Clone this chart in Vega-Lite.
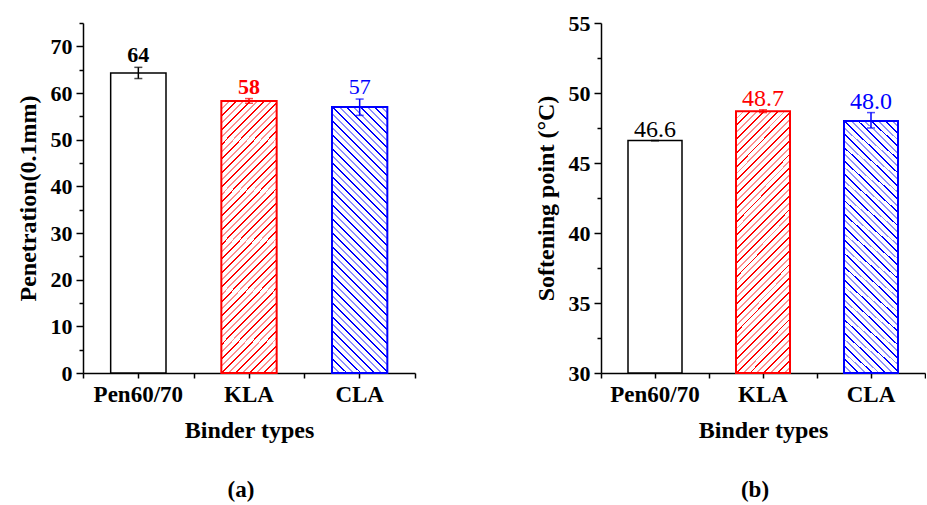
{
  "$schema": "https://vega.github.io/schema/vega-lite/v6.json",
  "padding": {"left": 16, "top": 12, "right": 0, "bottom": 0},
  "background": "white",
  "bounds": "flush",
  "spacing": 186,
  "datasets": {
    "pen": [
      {"binder": "Pen60/70", "value": 64.3, "lo": 63.1, "hi": 65.5, "label": "64"},
      {"binder": "KLA", "value": 58.3, "lo": 57.8, "hi": 58.8, "label": "58"},
      {"binder": "CLA", "value": 57.0, "lo": 55.2, "hi": 58.7, "label": "57"}
    ],
    "soft": [
      {"binder": "Pen60/70", "value": 46.6, "lo": 46.6, "hi": 46.6, "label": "46.6"},
      {"binder": "KLA", "value": 48.7, "lo": 48.6, "hi": 48.8, "label": "48.7"},
      {"binder": "CLA", "value": 48.0, "lo": 47.5, "hi": 48.6, "label": "48.0"}
    ]
  },
  "hconcat": [
    {
      "width": 332,
      "height": 350,
      "data": {"name": "pen"},
      "title": {"text": "(a)", "orient": "bottom", "frame": "group", "fontSize": 23, "fontWeight": "bold", "font": "Liberation Serif", "offset": 37, "dx": -8, "color": "black"},
      "resolve": {"axis": {"x": "independent", "y": "independent"}},
      "layer": [
        {
          "transform": [{"filter": "datum.binder === 'Pen60/70'"}],
          "mark": {"type": "bar", "width": {"band": 0.5}, "fill": "white", "stroke": "#000000", "strokeWidth": 1.5},
          "encoding": {
            "x": {"field": "binder", "type": "nominal", "scale": {"domain": ["Pen60/70", "KLA", "CLA"], "paddingInner": 0, "paddingOuter": 0},
              "axis": {"title": "Binder types", "labelFontSize": 23, "titleFontSize": 24, "labelAngle": 0, "tickSize": 5, "labelPadding": 5, "titlePadding": 12}},
            "y": {"field": "value", "type": "quantitative", "scale": {"domain": [0, 75], "nice": false},
              "axis": {"title": "Penetration(0.1mm)", "values": [0, 10, 20, 30, 40, 50, 60, 70], "labelFontSize": 22, "titleFontSize": 24, "tickSize": 7, "labelPadding": 4, "titlePadding": 10}}
          }
        },
        {
          "transform": [{"filter": "datum.binder === 'KLA'"}],
          "mark": {"type": "bar", "width": {"band": 0.5}, "stroke": "#ff0000", "strokeWidth": 2,
            "fill": {"gradient": "linear", "x1": 0, "y1": 0, "x2": 0.2403, "y2": 1.1577, "stops": [
        {"offset": 0, "color": "#ff0000"}, {"offset": 0.006, "color": "#ff0000"}, {"offset": 0.006, "color": "#ffffff"}, {"offset": 0.0217, "color": "#ffffff"},
        {"offset": 0.0217, "color": "#ff9090"}, {"offset": 0.0277, "color": "#ff9090"}, {"offset": 0.0277, "color": "#ffffff"}, {"offset": 0.0435, "color": "#ffffff"},
        {"offset": 0.0435, "color": "#ff0000"}, {"offset": 0.0495, "color": "#ff0000"}, {"offset": 0.0495, "color": "#ffffff"}, {"offset": 0.0652, "color": "#ffffff"},
        {"offset": 0.0652, "color": "#ff9090"}, {"offset": 0.0712, "color": "#ff9090"}, {"offset": 0.0712, "color": "#ffffff"}, {"offset": 0.0870, "color": "#ffffff"},
        {"offset": 0.0870, "color": "#ff0000"}, {"offset": 0.0930, "color": "#ff0000"}, {"offset": 0.0930, "color": "#ffffff"}, {"offset": 0.1087, "color": "#ffffff"},
        {"offset": 0.1087, "color": "#ff9090"}, {"offset": 0.1147, "color": "#ff9090"}, {"offset": 0.1147, "color": "#ffffff"}, {"offset": 0.1304, "color": "#ffffff"},
        {"offset": 0.1304, "color": "#ff0000"}, {"offset": 0.1364, "color": "#ff0000"}, {"offset": 0.1364, "color": "#ffffff"}, {"offset": 0.1522, "color": "#ffffff"},
        {"offset": 0.1522, "color": "#ff9090"}, {"offset": 0.1582, "color": "#ff9090"}, {"offset": 0.1582, "color": "#ffffff"}, {"offset": 0.1739, "color": "#ffffff"},
        {"offset": 0.1739, "color": "#ff0000"}, {"offset": 0.1799, "color": "#ff0000"}, {"offset": 0.1799, "color": "#ffffff"}, {"offset": 0.1957, "color": "#ffffff"},
        {"offset": 0.1957, "color": "#ff9090"}, {"offset": 0.2017, "color": "#ff9090"}, {"offset": 0.2017, "color": "#ffffff"}, {"offset": 0.2174, "color": "#ffffff"},
        {"offset": 0.2174, "color": "#ff0000"}, {"offset": 0.2234, "color": "#ff0000"}, {"offset": 0.2234, "color": "#ffffff"}, {"offset": 0.2391, "color": "#ffffff"},
        {"offset": 0.2391, "color": "#ff9090"}, {"offset": 0.2451, "color": "#ff9090"}, {"offset": 0.2451, "color": "#ffffff"}, {"offset": 0.2609, "color": "#ffffff"},
        {"offset": 0.2609, "color": "#ff0000"}, {"offset": 0.2669, "color": "#ff0000"}, {"offset": 0.2669, "color": "#ffffff"}, {"offset": 0.2826, "color": "#ffffff"},
        {"offset": 0.2826, "color": "#ff9090"}, {"offset": 0.2886, "color": "#ff9090"}, {"offset": 0.2886, "color": "#ffffff"}, {"offset": 0.3043, "color": "#ffffff"},
        {"offset": 0.3043, "color": "#ff0000"}, {"offset": 0.3103, "color": "#ff0000"}, {"offset": 0.3103, "color": "#ffffff"}, {"offset": 0.3261, "color": "#ffffff"},
        {"offset": 0.3261, "color": "#ff9090"}, {"offset": 0.3321, "color": "#ff9090"}, {"offset": 0.3321, "color": "#ffffff"}, {"offset": 0.3478, "color": "#ffffff"},
        {"offset": 0.3478, "color": "#ff0000"}, {"offset": 0.3538, "color": "#ff0000"}, {"offset": 0.3538, "color": "#ffffff"}, {"offset": 0.3696, "color": "#ffffff"},
        {"offset": 0.3696, "color": "#ff9090"}, {"offset": 0.3756, "color": "#ff9090"}, {"offset": 0.3756, "color": "#ffffff"}, {"offset": 0.3913, "color": "#ffffff"},
        {"offset": 0.3913, "color": "#ff0000"}, {"offset": 0.3973, "color": "#ff0000"}, {"offset": 0.3973, "color": "#ffffff"}, {"offset": 0.4130, "color": "#ffffff"},
        {"offset": 0.4130, "color": "#ff9090"}, {"offset": 0.4190, "color": "#ff9090"}, {"offset": 0.4190, "color": "#ffffff"}, {"offset": 0.4348, "color": "#ffffff"},
        {"offset": 0.4348, "color": "#ff0000"}, {"offset": 0.4408, "color": "#ff0000"}, {"offset": 0.4408, "color": "#ffffff"}, {"offset": 0.4565, "color": "#ffffff"},
        {"offset": 0.4565, "color": "#ff9090"}, {"offset": 0.4625, "color": "#ff9090"}, {"offset": 0.4625, "color": "#ffffff"}, {"offset": 0.4783, "color": "#ffffff"},
        {"offset": 0.4783, "color": "#ff0000"}, {"offset": 0.4843, "color": "#ff0000"}, {"offset": 0.4843, "color": "#ffffff"}, {"offset": 0.5000, "color": "#ffffff"},
        {"offset": 0.5000, "color": "#ff9090"}, {"offset": 0.5060, "color": "#ff9090"}, {"offset": 0.5060, "color": "#ffffff"}, {"offset": 0.5217, "color": "#ffffff"},
        {"offset": 0.5217, "color": "#ff0000"}, {"offset": 0.5277, "color": "#ff0000"}, {"offset": 0.5277, "color": "#ffffff"}, {"offset": 0.5435, "color": "#ffffff"},
        {"offset": 0.5435, "color": "#ff9090"}, {"offset": 0.5495, "color": "#ff9090"}, {"offset": 0.5495, "color": "#ffffff"}, {"offset": 0.5652, "color": "#ffffff"},
        {"offset": 0.5652, "color": "#ff0000"}, {"offset": 0.5712, "color": "#ff0000"}, {"offset": 0.5712, "color": "#ffffff"}, {"offset": 0.5870, "color": "#ffffff"},
        {"offset": 0.5870, "color": "#ff9090"}, {"offset": 0.5930, "color": "#ff9090"}, {"offset": 0.5930, "color": "#ffffff"}, {"offset": 0.6087, "color": "#ffffff"},
        {"offset": 0.6087, "color": "#ff0000"}, {"offset": 0.6147, "color": "#ff0000"}, {"offset": 0.6147, "color": "#ffffff"}, {"offset": 0.6304, "color": "#ffffff"},
        {"offset": 0.6304, "color": "#ff9090"}, {"offset": 0.6364, "color": "#ff9090"}, {"offset": 0.6364, "color": "#ffffff"}, {"offset": 0.6522, "color": "#ffffff"},
        {"offset": 0.6522, "color": "#ff0000"}, {"offset": 0.6582, "color": "#ff0000"}, {"offset": 0.6582, "color": "#ffffff"}, {"offset": 0.6739, "color": "#ffffff"},
        {"offset": 0.6739, "color": "#ff9090"}, {"offset": 0.6799, "color": "#ff9090"}, {"offset": 0.6799, "color": "#ffffff"}, {"offset": 0.6957, "color": "#ffffff"},
        {"offset": 0.6957, "color": "#ff0000"}, {"offset": 0.7017, "color": "#ff0000"}, {"offset": 0.7017, "color": "#ffffff"}, {"offset": 0.7174, "color": "#ffffff"},
        {"offset": 0.7174, "color": "#ff9090"}, {"offset": 0.7234, "color": "#ff9090"}, {"offset": 0.7234, "color": "#ffffff"}, {"offset": 0.7391, "color": "#ffffff"},
        {"offset": 0.7391, "color": "#ff0000"}, {"offset": 0.7451, "color": "#ff0000"}, {"offset": 0.7451, "color": "#ffffff"}, {"offset": 0.7609, "color": "#ffffff"},
        {"offset": 0.7609, "color": "#ff9090"}, {"offset": 0.7669, "color": "#ff9090"}, {"offset": 0.7669, "color": "#ffffff"}, {"offset": 0.7826, "color": "#ffffff"},
        {"offset": 0.7826, "color": "#ff0000"}, {"offset": 0.7886, "color": "#ff0000"}, {"offset": 0.7886, "color": "#ffffff"}, {"offset": 0.8043, "color": "#ffffff"},
        {"offset": 0.8043, "color": "#ff9090"}, {"offset": 0.8103, "color": "#ff9090"}, {"offset": 0.8103, "color": "#ffffff"}, {"offset": 0.8261, "color": "#ffffff"},
        {"offset": 0.8261, "color": "#ff0000"}, {"offset": 0.8321, "color": "#ff0000"}, {"offset": 0.8321, "color": "#ffffff"}, {"offset": 0.8478, "color": "#ffffff"},
        {"offset": 0.8478, "color": "#ff9090"}, {"offset": 0.8538, "color": "#ff9090"}, {"offset": 0.8538, "color": "#ffffff"}, {"offset": 0.8696, "color": "#ffffff"},
        {"offset": 0.8696, "color": "#ff0000"}, {"offset": 0.8756, "color": "#ff0000"}, {"offset": 0.8756, "color": "#ffffff"}, {"offset": 0.8913, "color": "#ffffff"},
        {"offset": 0.8913, "color": "#ff9090"}, {"offset": 0.8973, "color": "#ff9090"}, {"offset": 0.8973, "color": "#ffffff"}, {"offset": 0.9130, "color": "#ffffff"},
        {"offset": 0.9130, "color": "#ff0000"}, {"offset": 0.9190, "color": "#ff0000"}, {"offset": 0.9190, "color": "#ffffff"}, {"offset": 0.9348, "color": "#ffffff"},
        {"offset": 0.9348, "color": "#ff9090"}, {"offset": 0.9408, "color": "#ff9090"}, {"offset": 0.9408, "color": "#ffffff"}, {"offset": 0.9565, "color": "#ffffff"},
        {"offset": 0.9565, "color": "#ff0000"}, {"offset": 0.9625, "color": "#ff0000"}, {"offset": 0.9625, "color": "#ffffff"}, {"offset": 0.9783, "color": "#ffffff"},
        {"offset": 0.9783, "color": "#ff9090"}, {"offset": 0.9843, "color": "#ff9090"}, {"offset": 0.9843, "color": "#ffffff"}, {"offset": 1, "color": "#ffffff"}
            ]}},
          "encoding": {
            "x": {"field": "binder", "type": "nominal", "axis": null},
            "y": {"field": "value", "type": "quantitative", "axis": null}
          }
        },
        {
          "transform": [{"filter": "datum.binder === 'CLA'"}],
          "mark": {"type": "bar", "width": {"band": 0.5}, "stroke": "#0000ff", "strokeWidth": 2,
            "fill": {"gradient": "linear", "x1": 0, "y1": 1, "x2": 0.2403, "y2": -0.1577, "stops": [
        {"offset": 0, "color": "#0000ff"}, {"offset": 0.006, "color": "#0000ff"}, {"offset": 0.006, "color": "#ffffff"}, {"offset": 0.0217, "color": "#ffffff"},
        {"offset": 0.0217, "color": "#9090ff"}, {"offset": 0.0277, "color": "#9090ff"}, {"offset": 0.0277, "color": "#ffffff"}, {"offset": 0.0435, "color": "#ffffff"},
        {"offset": 0.0435, "color": "#0000ff"}, {"offset": 0.0495, "color": "#0000ff"}, {"offset": 0.0495, "color": "#ffffff"}, {"offset": 0.0652, "color": "#ffffff"},
        {"offset": 0.0652, "color": "#9090ff"}, {"offset": 0.0712, "color": "#9090ff"}, {"offset": 0.0712, "color": "#ffffff"}, {"offset": 0.0870, "color": "#ffffff"},
        {"offset": 0.0870, "color": "#0000ff"}, {"offset": 0.0930, "color": "#0000ff"}, {"offset": 0.0930, "color": "#ffffff"}, {"offset": 0.1087, "color": "#ffffff"},
        {"offset": 0.1087, "color": "#9090ff"}, {"offset": 0.1147, "color": "#9090ff"}, {"offset": 0.1147, "color": "#ffffff"}, {"offset": 0.1304, "color": "#ffffff"},
        {"offset": 0.1304, "color": "#0000ff"}, {"offset": 0.1364, "color": "#0000ff"}, {"offset": 0.1364, "color": "#ffffff"}, {"offset": 0.1522, "color": "#ffffff"},
        {"offset": 0.1522, "color": "#9090ff"}, {"offset": 0.1582, "color": "#9090ff"}, {"offset": 0.1582, "color": "#ffffff"}, {"offset": 0.1739, "color": "#ffffff"},
        {"offset": 0.1739, "color": "#0000ff"}, {"offset": 0.1799, "color": "#0000ff"}, {"offset": 0.1799, "color": "#ffffff"}, {"offset": 0.1957, "color": "#ffffff"},
        {"offset": 0.1957, "color": "#9090ff"}, {"offset": 0.2017, "color": "#9090ff"}, {"offset": 0.2017, "color": "#ffffff"}, {"offset": 0.2174, "color": "#ffffff"},
        {"offset": 0.2174, "color": "#0000ff"}, {"offset": 0.2234, "color": "#0000ff"}, {"offset": 0.2234, "color": "#ffffff"}, {"offset": 0.2391, "color": "#ffffff"},
        {"offset": 0.2391, "color": "#9090ff"}, {"offset": 0.2451, "color": "#9090ff"}, {"offset": 0.2451, "color": "#ffffff"}, {"offset": 0.2609, "color": "#ffffff"},
        {"offset": 0.2609, "color": "#0000ff"}, {"offset": 0.2669, "color": "#0000ff"}, {"offset": 0.2669, "color": "#ffffff"}, {"offset": 0.2826, "color": "#ffffff"},
        {"offset": 0.2826, "color": "#9090ff"}, {"offset": 0.2886, "color": "#9090ff"}, {"offset": 0.2886, "color": "#ffffff"}, {"offset": 0.3043, "color": "#ffffff"},
        {"offset": 0.3043, "color": "#0000ff"}, {"offset": 0.3103, "color": "#0000ff"}, {"offset": 0.3103, "color": "#ffffff"}, {"offset": 0.3261, "color": "#ffffff"},
        {"offset": 0.3261, "color": "#9090ff"}, {"offset": 0.3321, "color": "#9090ff"}, {"offset": 0.3321, "color": "#ffffff"}, {"offset": 0.3478, "color": "#ffffff"},
        {"offset": 0.3478, "color": "#0000ff"}, {"offset": 0.3538, "color": "#0000ff"}, {"offset": 0.3538, "color": "#ffffff"}, {"offset": 0.3696, "color": "#ffffff"},
        {"offset": 0.3696, "color": "#9090ff"}, {"offset": 0.3756, "color": "#9090ff"}, {"offset": 0.3756, "color": "#ffffff"}, {"offset": 0.3913, "color": "#ffffff"},
        {"offset": 0.3913, "color": "#0000ff"}, {"offset": 0.3973, "color": "#0000ff"}, {"offset": 0.3973, "color": "#ffffff"}, {"offset": 0.4130, "color": "#ffffff"},
        {"offset": 0.4130, "color": "#9090ff"}, {"offset": 0.4190, "color": "#9090ff"}, {"offset": 0.4190, "color": "#ffffff"}, {"offset": 0.4348, "color": "#ffffff"},
        {"offset": 0.4348, "color": "#0000ff"}, {"offset": 0.4408, "color": "#0000ff"}, {"offset": 0.4408, "color": "#ffffff"}, {"offset": 0.4565, "color": "#ffffff"},
        {"offset": 0.4565, "color": "#9090ff"}, {"offset": 0.4625, "color": "#9090ff"}, {"offset": 0.4625, "color": "#ffffff"}, {"offset": 0.4783, "color": "#ffffff"},
        {"offset": 0.4783, "color": "#0000ff"}, {"offset": 0.4843, "color": "#0000ff"}, {"offset": 0.4843, "color": "#ffffff"}, {"offset": 0.5000, "color": "#ffffff"},
        {"offset": 0.5000, "color": "#9090ff"}, {"offset": 0.5060, "color": "#9090ff"}, {"offset": 0.5060, "color": "#ffffff"}, {"offset": 0.5217, "color": "#ffffff"},
        {"offset": 0.5217, "color": "#0000ff"}, {"offset": 0.5277, "color": "#0000ff"}, {"offset": 0.5277, "color": "#ffffff"}, {"offset": 0.5435, "color": "#ffffff"},
        {"offset": 0.5435, "color": "#9090ff"}, {"offset": 0.5495, "color": "#9090ff"}, {"offset": 0.5495, "color": "#ffffff"}, {"offset": 0.5652, "color": "#ffffff"},
        {"offset": 0.5652, "color": "#0000ff"}, {"offset": 0.5712, "color": "#0000ff"}, {"offset": 0.5712, "color": "#ffffff"}, {"offset": 0.5870, "color": "#ffffff"},
        {"offset": 0.5870, "color": "#9090ff"}, {"offset": 0.5930, "color": "#9090ff"}, {"offset": 0.5930, "color": "#ffffff"}, {"offset": 0.6087, "color": "#ffffff"},
        {"offset": 0.6087, "color": "#0000ff"}, {"offset": 0.6147, "color": "#0000ff"}, {"offset": 0.6147, "color": "#ffffff"}, {"offset": 0.6304, "color": "#ffffff"},
        {"offset": 0.6304, "color": "#9090ff"}, {"offset": 0.6364, "color": "#9090ff"}, {"offset": 0.6364, "color": "#ffffff"}, {"offset": 0.6522, "color": "#ffffff"},
        {"offset": 0.6522, "color": "#0000ff"}, {"offset": 0.6582, "color": "#0000ff"}, {"offset": 0.6582, "color": "#ffffff"}, {"offset": 0.6739, "color": "#ffffff"},
        {"offset": 0.6739, "color": "#9090ff"}, {"offset": 0.6799, "color": "#9090ff"}, {"offset": 0.6799, "color": "#ffffff"}, {"offset": 0.6957, "color": "#ffffff"},
        {"offset": 0.6957, "color": "#0000ff"}, {"offset": 0.7017, "color": "#0000ff"}, {"offset": 0.7017, "color": "#ffffff"}, {"offset": 0.7174, "color": "#ffffff"},
        {"offset": 0.7174, "color": "#9090ff"}, {"offset": 0.7234, "color": "#9090ff"}, {"offset": 0.7234, "color": "#ffffff"}, {"offset": 0.7391, "color": "#ffffff"},
        {"offset": 0.7391, "color": "#0000ff"}, {"offset": 0.7451, "color": "#0000ff"}, {"offset": 0.7451, "color": "#ffffff"}, {"offset": 0.7609, "color": "#ffffff"},
        {"offset": 0.7609, "color": "#9090ff"}, {"offset": 0.7669, "color": "#9090ff"}, {"offset": 0.7669, "color": "#ffffff"}, {"offset": 0.7826, "color": "#ffffff"},
        {"offset": 0.7826, "color": "#0000ff"}, {"offset": 0.7886, "color": "#0000ff"}, {"offset": 0.7886, "color": "#ffffff"}, {"offset": 0.8043, "color": "#ffffff"},
        {"offset": 0.8043, "color": "#9090ff"}, {"offset": 0.8103, "color": "#9090ff"}, {"offset": 0.8103, "color": "#ffffff"}, {"offset": 0.8261, "color": "#ffffff"},
        {"offset": 0.8261, "color": "#0000ff"}, {"offset": 0.8321, "color": "#0000ff"}, {"offset": 0.8321, "color": "#ffffff"}, {"offset": 0.8478, "color": "#ffffff"},
        {"offset": 0.8478, "color": "#9090ff"}, {"offset": 0.8538, "color": "#9090ff"}, {"offset": 0.8538, "color": "#ffffff"}, {"offset": 0.8696, "color": "#ffffff"},
        {"offset": 0.8696, "color": "#0000ff"}, {"offset": 0.8756, "color": "#0000ff"}, {"offset": 0.8756, "color": "#ffffff"}, {"offset": 0.8913, "color": "#ffffff"},
        {"offset": 0.8913, "color": "#9090ff"}, {"offset": 0.8973, "color": "#9090ff"}, {"offset": 0.8973, "color": "#ffffff"}, {"offset": 0.9130, "color": "#ffffff"},
        {"offset": 0.9130, "color": "#0000ff"}, {"offset": 0.9190, "color": "#0000ff"}, {"offset": 0.9190, "color": "#ffffff"}, {"offset": 0.9348, "color": "#ffffff"},
        {"offset": 0.9348, "color": "#9090ff"}, {"offset": 0.9408, "color": "#9090ff"}, {"offset": 0.9408, "color": "#ffffff"}, {"offset": 0.9565, "color": "#ffffff"},
        {"offset": 0.9565, "color": "#0000ff"}, {"offset": 0.9625, "color": "#0000ff"}, {"offset": 0.9625, "color": "#ffffff"}, {"offset": 0.9783, "color": "#ffffff"},
        {"offset": 0.9783, "color": "#9090ff"}, {"offset": 0.9843, "color": "#9090ff"}, {"offset": 0.9843, "color": "#ffffff"}, {"offset": 1, "color": "#ffffff"}
            ]}},
          "encoding": {
            "x": {"field": "binder", "type": "nominal", "axis": null},
            "y": {"field": "value", "type": "quantitative", "axis": null}
          }
        },
        {
          "mark": {"type": "errorbar", "ticks": {"size": 8, "thickness": 1.5}, "rule": {"strokeWidth": 1.5}},
          "encoding": {
            "x": {"field": "binder", "type": "nominal", "axis": {"orient": "bottom", "tickBand": "extent", "labels": false, "domain": false, "title": null, "tickSize": 5}},
            "y": {"field": "lo", "type": "quantitative", "axis": {"orient": "left", "values": [5, 15, 25, 35, 45, 55, 65, 75], "labels": false, "domain": false, "title": null, "tickSize": 4}},
            "y2": {"field": "hi"},
            "color": {"field": "binder", "type": "nominal", "scale": {"domain": ["Pen60/70", "KLA", "CLA"], "range": ["#000000", "#ff0000", "#0000ff"]}, "legend": null}
          }
        },
        {
          "transform": [{"filter": "datum.binder !== 'CLA'"}],
          "mark": {"type": "text", "font": "Liberation Serif", "fontSize": 22, "fontWeight": "bold", "baseline": "alphabetic", "dy": -5},
          "encoding": {
            "x": {"field": "binder", "type": "nominal", "axis": null},
            "y": {"field": "hi", "type": "quantitative", "axis": null},
            "text": {"field": "label"},
            "color": {"field": "binder", "type": "nominal", "legend": null}
          }
        },
        {
          "transform": [{"filter": "datum.binder === 'CLA'"}],
          "mark": {"type": "text", "font": "Liberation Serif", "fontSize": 22, "fontWeight": "normal", "baseline": "alphabetic", "dy": -5},
          "encoding": {
            "x": {"field": "binder", "type": "nominal", "axis": null},
            "y": {"field": "hi", "type": "quantitative", "axis": null},
            "text": {"field": "label"},
            "color": {"field": "binder", "type": "nominal", "legend": null}
          }
        }
      ]
    },
    {
      "width": 324,
      "height": 350,
      "data": {"name": "soft"},
      "title": {"text": "(b)", "orient": "bottom", "frame": "group", "fontSize": 23, "fontWeight": "bold", "font": "Liberation Serif", "offset": 37, "dx": -8, "color": "black"},
      "resolve": {"axis": {"x": "independent", "y": "independent"}},
      "layer": [
        {
          "transform": [{"filter": "datum.binder === 'Pen60/70'"}],
          "mark": {"type": "bar", "width": {"band": 0.5}, "fill": "white", "stroke": "#000000", "strokeWidth": 1.5},
          "encoding": {
            "x": {"field": "binder", "type": "nominal", "scale": {"domain": ["Pen60/70", "KLA", "CLA"], "paddingInner": 0, "paddingOuter": 0},
              "axis": {"title": "Binder types", "labelFontSize": 23, "titleFontSize": 24, "labelAngle": 0, "tickSize": 5, "labelPadding": 5, "titlePadding": 12}},
            "y": {"field": "value", "type": "quantitative", "scale": {"domain": [30, 55], "nice": false, "zero": false},
              "axis": {"title": "Softening point (°C)", "values": [30, 35, 40, 45, 50, 55], "labelFontSize": 22, "titleFontSize": 24, "tickSize": 7, "labelPadding": 4, "titlePadding": 10}},
            "y2": {"datum": 30}
          }
        },
        {
          "transform": [{"filter": "datum.binder === 'KLA'"}],
          "mark": {"type": "bar", "width": {"band": 0.5}, "stroke": "#ff0000", "strokeWidth": 2,
            "fill": {"gradient": "linear", "x1": 0, "y1": 0, "x2": 0.2403, "y2": 1.1577, "stops": [
        {"offset": 0, "color": "#ff0000"}, {"offset": 0.006, "color": "#ff0000"}, {"offset": 0.006, "color": "#ffffff"}, {"offset": 0.0217, "color": "#ffffff"},
        {"offset": 0.0217, "color": "#ff9090"}, {"offset": 0.0277, "color": "#ff9090"}, {"offset": 0.0277, "color": "#ffffff"}, {"offset": 0.0435, "color": "#ffffff"},
        {"offset": 0.0435, "color": "#ff0000"}, {"offset": 0.0495, "color": "#ff0000"}, {"offset": 0.0495, "color": "#ffffff"}, {"offset": 0.0652, "color": "#ffffff"},
        {"offset": 0.0652, "color": "#ff9090"}, {"offset": 0.0712, "color": "#ff9090"}, {"offset": 0.0712, "color": "#ffffff"}, {"offset": 0.0870, "color": "#ffffff"},
        {"offset": 0.0870, "color": "#ff0000"}, {"offset": 0.0930, "color": "#ff0000"}, {"offset": 0.0930, "color": "#ffffff"}, {"offset": 0.1087, "color": "#ffffff"},
        {"offset": 0.1087, "color": "#ff9090"}, {"offset": 0.1147, "color": "#ff9090"}, {"offset": 0.1147, "color": "#ffffff"}, {"offset": 0.1304, "color": "#ffffff"},
        {"offset": 0.1304, "color": "#ff0000"}, {"offset": 0.1364, "color": "#ff0000"}, {"offset": 0.1364, "color": "#ffffff"}, {"offset": 0.1522, "color": "#ffffff"},
        {"offset": 0.1522, "color": "#ff9090"}, {"offset": 0.1582, "color": "#ff9090"}, {"offset": 0.1582, "color": "#ffffff"}, {"offset": 0.1739, "color": "#ffffff"},
        {"offset": 0.1739, "color": "#ff0000"}, {"offset": 0.1799, "color": "#ff0000"}, {"offset": 0.1799, "color": "#ffffff"}, {"offset": 0.1957, "color": "#ffffff"},
        {"offset": 0.1957, "color": "#ff9090"}, {"offset": 0.2017, "color": "#ff9090"}, {"offset": 0.2017, "color": "#ffffff"}, {"offset": 0.2174, "color": "#ffffff"},
        {"offset": 0.2174, "color": "#ff0000"}, {"offset": 0.2234, "color": "#ff0000"}, {"offset": 0.2234, "color": "#ffffff"}, {"offset": 0.2391, "color": "#ffffff"},
        {"offset": 0.2391, "color": "#ff9090"}, {"offset": 0.2451, "color": "#ff9090"}, {"offset": 0.2451, "color": "#ffffff"}, {"offset": 0.2609, "color": "#ffffff"},
        {"offset": 0.2609, "color": "#ff0000"}, {"offset": 0.2669, "color": "#ff0000"}, {"offset": 0.2669, "color": "#ffffff"}, {"offset": 0.2826, "color": "#ffffff"},
        {"offset": 0.2826, "color": "#ff9090"}, {"offset": 0.2886, "color": "#ff9090"}, {"offset": 0.2886, "color": "#ffffff"}, {"offset": 0.3043, "color": "#ffffff"},
        {"offset": 0.3043, "color": "#ff0000"}, {"offset": 0.3103, "color": "#ff0000"}, {"offset": 0.3103, "color": "#ffffff"}, {"offset": 0.3261, "color": "#ffffff"},
        {"offset": 0.3261, "color": "#ff9090"}, {"offset": 0.3321, "color": "#ff9090"}, {"offset": 0.3321, "color": "#ffffff"}, {"offset": 0.3478, "color": "#ffffff"},
        {"offset": 0.3478, "color": "#ff0000"}, {"offset": 0.3538, "color": "#ff0000"}, {"offset": 0.3538, "color": "#ffffff"}, {"offset": 0.3696, "color": "#ffffff"},
        {"offset": 0.3696, "color": "#ff9090"}, {"offset": 0.3756, "color": "#ff9090"}, {"offset": 0.3756, "color": "#ffffff"}, {"offset": 0.3913, "color": "#ffffff"},
        {"offset": 0.3913, "color": "#ff0000"}, {"offset": 0.3973, "color": "#ff0000"}, {"offset": 0.3973, "color": "#ffffff"}, {"offset": 0.4130, "color": "#ffffff"},
        {"offset": 0.4130, "color": "#ff9090"}, {"offset": 0.4190, "color": "#ff9090"}, {"offset": 0.4190, "color": "#ffffff"}, {"offset": 0.4348, "color": "#ffffff"},
        {"offset": 0.4348, "color": "#ff0000"}, {"offset": 0.4408, "color": "#ff0000"}, {"offset": 0.4408, "color": "#ffffff"}, {"offset": 0.4565, "color": "#ffffff"},
        {"offset": 0.4565, "color": "#ff9090"}, {"offset": 0.4625, "color": "#ff9090"}, {"offset": 0.4625, "color": "#ffffff"}, {"offset": 0.4783, "color": "#ffffff"},
        {"offset": 0.4783, "color": "#ff0000"}, {"offset": 0.4843, "color": "#ff0000"}, {"offset": 0.4843, "color": "#ffffff"}, {"offset": 0.5000, "color": "#ffffff"},
        {"offset": 0.5000, "color": "#ff9090"}, {"offset": 0.5060, "color": "#ff9090"}, {"offset": 0.5060, "color": "#ffffff"}, {"offset": 0.5217, "color": "#ffffff"},
        {"offset": 0.5217, "color": "#ff0000"}, {"offset": 0.5277, "color": "#ff0000"}, {"offset": 0.5277, "color": "#ffffff"}, {"offset": 0.5435, "color": "#ffffff"},
        {"offset": 0.5435, "color": "#ff9090"}, {"offset": 0.5495, "color": "#ff9090"}, {"offset": 0.5495, "color": "#ffffff"}, {"offset": 0.5652, "color": "#ffffff"},
        {"offset": 0.5652, "color": "#ff0000"}, {"offset": 0.5712, "color": "#ff0000"}, {"offset": 0.5712, "color": "#ffffff"}, {"offset": 0.5870, "color": "#ffffff"},
        {"offset": 0.5870, "color": "#ff9090"}, {"offset": 0.5930, "color": "#ff9090"}, {"offset": 0.5930, "color": "#ffffff"}, {"offset": 0.6087, "color": "#ffffff"},
        {"offset": 0.6087, "color": "#ff0000"}, {"offset": 0.6147, "color": "#ff0000"}, {"offset": 0.6147, "color": "#ffffff"}, {"offset": 0.6304, "color": "#ffffff"},
        {"offset": 0.6304, "color": "#ff9090"}, {"offset": 0.6364, "color": "#ff9090"}, {"offset": 0.6364, "color": "#ffffff"}, {"offset": 0.6522, "color": "#ffffff"},
        {"offset": 0.6522, "color": "#ff0000"}, {"offset": 0.6582, "color": "#ff0000"}, {"offset": 0.6582, "color": "#ffffff"}, {"offset": 0.6739, "color": "#ffffff"},
        {"offset": 0.6739, "color": "#ff9090"}, {"offset": 0.6799, "color": "#ff9090"}, {"offset": 0.6799, "color": "#ffffff"}, {"offset": 0.6957, "color": "#ffffff"},
        {"offset": 0.6957, "color": "#ff0000"}, {"offset": 0.7017, "color": "#ff0000"}, {"offset": 0.7017, "color": "#ffffff"}, {"offset": 0.7174, "color": "#ffffff"},
        {"offset": 0.7174, "color": "#ff9090"}, {"offset": 0.7234, "color": "#ff9090"}, {"offset": 0.7234, "color": "#ffffff"}, {"offset": 0.7391, "color": "#ffffff"},
        {"offset": 0.7391, "color": "#ff0000"}, {"offset": 0.7451, "color": "#ff0000"}, {"offset": 0.7451, "color": "#ffffff"}, {"offset": 0.7609, "color": "#ffffff"},
        {"offset": 0.7609, "color": "#ff9090"}, {"offset": 0.7669, "color": "#ff9090"}, {"offset": 0.7669, "color": "#ffffff"}, {"offset": 0.7826, "color": "#ffffff"},
        {"offset": 0.7826, "color": "#ff0000"}, {"offset": 0.7886, "color": "#ff0000"}, {"offset": 0.7886, "color": "#ffffff"}, {"offset": 0.8043, "color": "#ffffff"},
        {"offset": 0.8043, "color": "#ff9090"}, {"offset": 0.8103, "color": "#ff9090"}, {"offset": 0.8103, "color": "#ffffff"}, {"offset": 0.8261, "color": "#ffffff"},
        {"offset": 0.8261, "color": "#ff0000"}, {"offset": 0.8321, "color": "#ff0000"}, {"offset": 0.8321, "color": "#ffffff"}, {"offset": 0.8478, "color": "#ffffff"},
        {"offset": 0.8478, "color": "#ff9090"}, {"offset": 0.8538, "color": "#ff9090"}, {"offset": 0.8538, "color": "#ffffff"}, {"offset": 0.8696, "color": "#ffffff"},
        {"offset": 0.8696, "color": "#ff0000"}, {"offset": 0.8756, "color": "#ff0000"}, {"offset": 0.8756, "color": "#ffffff"}, {"offset": 0.8913, "color": "#ffffff"},
        {"offset": 0.8913, "color": "#ff9090"}, {"offset": 0.8973, "color": "#ff9090"}, {"offset": 0.8973, "color": "#ffffff"}, {"offset": 0.9130, "color": "#ffffff"},
        {"offset": 0.9130, "color": "#ff0000"}, {"offset": 0.9190, "color": "#ff0000"}, {"offset": 0.9190, "color": "#ffffff"}, {"offset": 0.9348, "color": "#ffffff"},
        {"offset": 0.9348, "color": "#ff9090"}, {"offset": 0.9408, "color": "#ff9090"}, {"offset": 0.9408, "color": "#ffffff"}, {"offset": 0.9565, "color": "#ffffff"},
        {"offset": 0.9565, "color": "#ff0000"}, {"offset": 0.9625, "color": "#ff0000"}, {"offset": 0.9625, "color": "#ffffff"}, {"offset": 0.9783, "color": "#ffffff"},
        {"offset": 0.9783, "color": "#ff9090"}, {"offset": 0.9843, "color": "#ff9090"}, {"offset": 0.9843, "color": "#ffffff"}, {"offset": 1, "color": "#ffffff"}
            ]}},
          "encoding": {
            "x": {"field": "binder", "type": "nominal", "axis": null},
            "y": {"field": "value", "type": "quantitative", "axis": null},
            "y2": {"datum": 30}
          }
        },
        {
          "transform": [{"filter": "datum.binder === 'CLA'"}],
          "mark": {"type": "bar", "width": {"band": 0.5}, "stroke": "#0000ff", "strokeWidth": 2,
            "fill": {"gradient": "linear", "x1": 0, "y1": 1, "x2": 0.2403, "y2": -0.1577, "stops": [
        {"offset": 0, "color": "#0000ff"}, {"offset": 0.006, "color": "#0000ff"}, {"offset": 0.006, "color": "#ffffff"}, {"offset": 0.0217, "color": "#ffffff"},
        {"offset": 0.0217, "color": "#9090ff"}, {"offset": 0.0277, "color": "#9090ff"}, {"offset": 0.0277, "color": "#ffffff"}, {"offset": 0.0435, "color": "#ffffff"},
        {"offset": 0.0435, "color": "#0000ff"}, {"offset": 0.0495, "color": "#0000ff"}, {"offset": 0.0495, "color": "#ffffff"}, {"offset": 0.0652, "color": "#ffffff"},
        {"offset": 0.0652, "color": "#9090ff"}, {"offset": 0.0712, "color": "#9090ff"}, {"offset": 0.0712, "color": "#ffffff"}, {"offset": 0.0870, "color": "#ffffff"},
        {"offset": 0.0870, "color": "#0000ff"}, {"offset": 0.0930, "color": "#0000ff"}, {"offset": 0.0930, "color": "#ffffff"}, {"offset": 0.1087, "color": "#ffffff"},
        {"offset": 0.1087, "color": "#9090ff"}, {"offset": 0.1147, "color": "#9090ff"}, {"offset": 0.1147, "color": "#ffffff"}, {"offset": 0.1304, "color": "#ffffff"},
        {"offset": 0.1304, "color": "#0000ff"}, {"offset": 0.1364, "color": "#0000ff"}, {"offset": 0.1364, "color": "#ffffff"}, {"offset": 0.1522, "color": "#ffffff"},
        {"offset": 0.1522, "color": "#9090ff"}, {"offset": 0.1582, "color": "#9090ff"}, {"offset": 0.1582, "color": "#ffffff"}, {"offset": 0.1739, "color": "#ffffff"},
        {"offset": 0.1739, "color": "#0000ff"}, {"offset": 0.1799, "color": "#0000ff"}, {"offset": 0.1799, "color": "#ffffff"}, {"offset": 0.1957, "color": "#ffffff"},
        {"offset": 0.1957, "color": "#9090ff"}, {"offset": 0.2017, "color": "#9090ff"}, {"offset": 0.2017, "color": "#ffffff"}, {"offset": 0.2174, "color": "#ffffff"},
        {"offset": 0.2174, "color": "#0000ff"}, {"offset": 0.2234, "color": "#0000ff"}, {"offset": 0.2234, "color": "#ffffff"}, {"offset": 0.2391, "color": "#ffffff"},
        {"offset": 0.2391, "color": "#9090ff"}, {"offset": 0.2451, "color": "#9090ff"}, {"offset": 0.2451, "color": "#ffffff"}, {"offset": 0.2609, "color": "#ffffff"},
        {"offset": 0.2609, "color": "#0000ff"}, {"offset": 0.2669, "color": "#0000ff"}, {"offset": 0.2669, "color": "#ffffff"}, {"offset": 0.2826, "color": "#ffffff"},
        {"offset": 0.2826, "color": "#9090ff"}, {"offset": 0.2886, "color": "#9090ff"}, {"offset": 0.2886, "color": "#ffffff"}, {"offset": 0.3043, "color": "#ffffff"},
        {"offset": 0.3043, "color": "#0000ff"}, {"offset": 0.3103, "color": "#0000ff"}, {"offset": 0.3103, "color": "#ffffff"}, {"offset": 0.3261, "color": "#ffffff"},
        {"offset": 0.3261, "color": "#9090ff"}, {"offset": 0.3321, "color": "#9090ff"}, {"offset": 0.3321, "color": "#ffffff"}, {"offset": 0.3478, "color": "#ffffff"},
        {"offset": 0.3478, "color": "#0000ff"}, {"offset": 0.3538, "color": "#0000ff"}, {"offset": 0.3538, "color": "#ffffff"}, {"offset": 0.3696, "color": "#ffffff"},
        {"offset": 0.3696, "color": "#9090ff"}, {"offset": 0.3756, "color": "#9090ff"}, {"offset": 0.3756, "color": "#ffffff"}, {"offset": 0.3913, "color": "#ffffff"},
        {"offset": 0.3913, "color": "#0000ff"}, {"offset": 0.3973, "color": "#0000ff"}, {"offset": 0.3973, "color": "#ffffff"}, {"offset": 0.4130, "color": "#ffffff"},
        {"offset": 0.4130, "color": "#9090ff"}, {"offset": 0.4190, "color": "#9090ff"}, {"offset": 0.4190, "color": "#ffffff"}, {"offset": 0.4348, "color": "#ffffff"},
        {"offset": 0.4348, "color": "#0000ff"}, {"offset": 0.4408, "color": "#0000ff"}, {"offset": 0.4408, "color": "#ffffff"}, {"offset": 0.4565, "color": "#ffffff"},
        {"offset": 0.4565, "color": "#9090ff"}, {"offset": 0.4625, "color": "#9090ff"}, {"offset": 0.4625, "color": "#ffffff"}, {"offset": 0.4783, "color": "#ffffff"},
        {"offset": 0.4783, "color": "#0000ff"}, {"offset": 0.4843, "color": "#0000ff"}, {"offset": 0.4843, "color": "#ffffff"}, {"offset": 0.5000, "color": "#ffffff"},
        {"offset": 0.5000, "color": "#9090ff"}, {"offset": 0.5060, "color": "#9090ff"}, {"offset": 0.5060, "color": "#ffffff"}, {"offset": 0.5217, "color": "#ffffff"},
        {"offset": 0.5217, "color": "#0000ff"}, {"offset": 0.5277, "color": "#0000ff"}, {"offset": 0.5277, "color": "#ffffff"}, {"offset": 0.5435, "color": "#ffffff"},
        {"offset": 0.5435, "color": "#9090ff"}, {"offset": 0.5495, "color": "#9090ff"}, {"offset": 0.5495, "color": "#ffffff"}, {"offset": 0.5652, "color": "#ffffff"},
        {"offset": 0.5652, "color": "#0000ff"}, {"offset": 0.5712, "color": "#0000ff"}, {"offset": 0.5712, "color": "#ffffff"}, {"offset": 0.5870, "color": "#ffffff"},
        {"offset": 0.5870, "color": "#9090ff"}, {"offset": 0.5930, "color": "#9090ff"}, {"offset": 0.5930, "color": "#ffffff"}, {"offset": 0.6087, "color": "#ffffff"},
        {"offset": 0.6087, "color": "#0000ff"}, {"offset": 0.6147, "color": "#0000ff"}, {"offset": 0.6147, "color": "#ffffff"}, {"offset": 0.6304, "color": "#ffffff"},
        {"offset": 0.6304, "color": "#9090ff"}, {"offset": 0.6364, "color": "#9090ff"}, {"offset": 0.6364, "color": "#ffffff"}, {"offset": 0.6522, "color": "#ffffff"},
        {"offset": 0.6522, "color": "#0000ff"}, {"offset": 0.6582, "color": "#0000ff"}, {"offset": 0.6582, "color": "#ffffff"}, {"offset": 0.6739, "color": "#ffffff"},
        {"offset": 0.6739, "color": "#9090ff"}, {"offset": 0.6799, "color": "#9090ff"}, {"offset": 0.6799, "color": "#ffffff"}, {"offset": 0.6957, "color": "#ffffff"},
        {"offset": 0.6957, "color": "#0000ff"}, {"offset": 0.7017, "color": "#0000ff"}, {"offset": 0.7017, "color": "#ffffff"}, {"offset": 0.7174, "color": "#ffffff"},
        {"offset": 0.7174, "color": "#9090ff"}, {"offset": 0.7234, "color": "#9090ff"}, {"offset": 0.7234, "color": "#ffffff"}, {"offset": 0.7391, "color": "#ffffff"},
        {"offset": 0.7391, "color": "#0000ff"}, {"offset": 0.7451, "color": "#0000ff"}, {"offset": 0.7451, "color": "#ffffff"}, {"offset": 0.7609, "color": "#ffffff"},
        {"offset": 0.7609, "color": "#9090ff"}, {"offset": 0.7669, "color": "#9090ff"}, {"offset": 0.7669, "color": "#ffffff"}, {"offset": 0.7826, "color": "#ffffff"},
        {"offset": 0.7826, "color": "#0000ff"}, {"offset": 0.7886, "color": "#0000ff"}, {"offset": 0.7886, "color": "#ffffff"}, {"offset": 0.8043, "color": "#ffffff"},
        {"offset": 0.8043, "color": "#9090ff"}, {"offset": 0.8103, "color": "#9090ff"}, {"offset": 0.8103, "color": "#ffffff"}, {"offset": 0.8261, "color": "#ffffff"},
        {"offset": 0.8261, "color": "#0000ff"}, {"offset": 0.8321, "color": "#0000ff"}, {"offset": 0.8321, "color": "#ffffff"}, {"offset": 0.8478, "color": "#ffffff"},
        {"offset": 0.8478, "color": "#9090ff"}, {"offset": 0.8538, "color": "#9090ff"}, {"offset": 0.8538, "color": "#ffffff"}, {"offset": 0.8696, "color": "#ffffff"},
        {"offset": 0.8696, "color": "#0000ff"}, {"offset": 0.8756, "color": "#0000ff"}, {"offset": 0.8756, "color": "#ffffff"}, {"offset": 0.8913, "color": "#ffffff"},
        {"offset": 0.8913, "color": "#9090ff"}, {"offset": 0.8973, "color": "#9090ff"}, {"offset": 0.8973, "color": "#ffffff"}, {"offset": 0.9130, "color": "#ffffff"},
        {"offset": 0.9130, "color": "#0000ff"}, {"offset": 0.9190, "color": "#0000ff"}, {"offset": 0.9190, "color": "#ffffff"}, {"offset": 0.9348, "color": "#ffffff"},
        {"offset": 0.9348, "color": "#9090ff"}, {"offset": 0.9408, "color": "#9090ff"}, {"offset": 0.9408, "color": "#ffffff"}, {"offset": 0.9565, "color": "#ffffff"},
        {"offset": 0.9565, "color": "#0000ff"}, {"offset": 0.9625, "color": "#0000ff"}, {"offset": 0.9625, "color": "#ffffff"}, {"offset": 0.9783, "color": "#ffffff"},
        {"offset": 0.9783, "color": "#9090ff"}, {"offset": 0.9843, "color": "#9090ff"}, {"offset": 0.9843, "color": "#ffffff"}, {"offset": 1, "color": "#ffffff"}
            ]}},
          "encoding": {
            "x": {"field": "binder", "type": "nominal", "axis": null},
            "y": {"field": "value", "type": "quantitative", "axis": null},
            "y2": {"datum": 30}
          }
        },
        {
          "mark": {"type": "errorbar", "ticks": {"size": 8, "thickness": 1.5}, "rule": {"strokeWidth": 1.5}},
          "encoding": {
            "x": {"field": "binder", "type": "nominal", "axis": {"orient": "bottom", "tickBand": "extent", "labels": false, "domain": false, "title": null, "tickSize": 5}},
            "y": {"field": "lo", "type": "quantitative", "axis": {"orient": "left", "values": [32.5, 37.5, 42.5, 47.5, 52.5], "labels": false, "domain": false, "title": null, "tickSize": 4}},
            "y2": {"field": "hi"},
            "color": {"field": "binder", "type": "nominal", "scale": {"domain": ["Pen60/70", "KLA", "CLA"], "range": ["#000000", "#ff0000", "#0000ff"]}, "legend": null}
          }
        },
        {
          "mark": {"type": "text", "font": "Liberation Serif", "fontSize": 24, "fontWeight": "normal", "baseline": "alphabetic", "dy": -4},
          "encoding": {
            "x": {"field": "binder", "type": "nominal", "axis": null},
            "y": {"field": "hi", "type": "quantitative", "axis": null},
            "text": {"field": "label"},
            "color": {"field": "binder", "type": "nominal", "legend": null}
          }
        }
      ]
    }
  ],
  "config": {
    "view": {"stroke": null},
    "font": "Liberation Serif",
    "axis": {
      "grid": false,
      "domainColor": "#000000",
      "domainWidth": 1.5,
      "tickColor": "#000000",
      "tickWidth": 1.5,
      "labelColor": "#000000",
      "titleColor": "#000000",
      "labelFont": "Liberation Serif",
      "titleFont": "Liberation Serif",
      "labelFontWeight": "bold",
      "titleFontWeight": "bold"
    }
  }
}
